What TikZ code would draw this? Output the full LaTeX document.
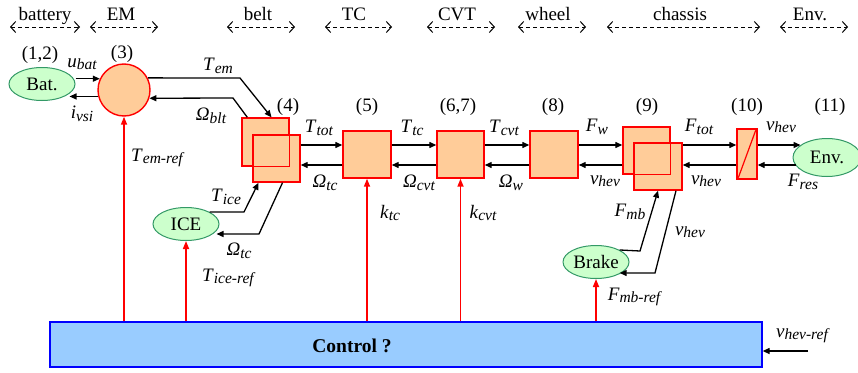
\documentclass[tikz,border=0pt]{standalone}
\usepackage{fontspec}
\setmainfont{Liberation Serif}
\usetikzlibrary{arrows.meta,shapes.geometric}

\definecolor{peach}{HTML}{FFCC99}
\definecolor{srcfill}{HTML}{CCFFCC}
\definecolor{srcline}{HTML}{339966}
\definecolor{ctrlfill}{HTML}{99CCFF}

% signal name with italic subscript
\newcommand{\sg}[2]{\textit{#1}\raisebox{-2.5pt}{\fontsize{15.5}{16}\selectfont\itshape #2}}

\tikzset{
  block/.style={draw=red, line width=1.4pt, fill=peach, inner sep=0pt},
  source/.style={ellipse, draw=srcline, line width=1pt, fill=srcfill, inner sep=0pt, minimum width=66pt, minimum height=33pt},
  sig/.style={line width=1.3pt, -{Triangle[length=7pt,width=6pt]}},
  refsig/.style={red, line width=1.6pt, -{Triangle[length=8pt,width=6pt]}},
  zone/.style={line width=1pt, dash pattern=on 4pt off 3pt, {Straight Barb[length=5pt,width=11pt]}-{Straight Barb[length=5pt,width=11pt]}},
}

\begin{document}
\begin{tikzpicture}[x=1pt, y=-1pt, font=\fontsize{19}{22}\selectfont]
  \useasboundingbox (0,0) rectangle (858,372);

  % Subsystem ranges along the top
  \foreach \xa/\xb/\xl/\nm [count=\i] in {10/80/45/battery, 90/158/121/EM, 227/295/258/belt, 325/392/354/TC, 427/495/457/CVT, 518/586/548/wheel, 607/760/680/chassis, 780/848/810/Env.}{
    \coordinate (za\i) at (\xa,27);
    \coordinate (zb\i) at (\xb,27);
    \draw[zone] (za\i) -- (zb\i);
    \node[anchor=base] (zl\i) at (\xl,20) {\nm};
  }

  % Sources and environment
  \node[source] (bat) at (42,84) {Bat.};
  \node[source] (ice) at (186,224) {ICE};
  \node[source] (brake) at (596,262) {Brake};
  \node[source, minimum width=68pt, minimum height=38pt] (env) at (827,157.5) {Env.};

  % Electric machine and blocks
  \node[circle, block, minimum size=52pt] (em) at (124,90) {};
  \node[block, minimum width=47pt, minimum height=48pt] (b4a) at (265.5,142) {};
  \node[block, minimum width=47pt, minimum height=47pt] (b4b) at (276.5,158.5) {};
  \draw[red, line width=1.4pt] (b4a.south west) rectangle (b4a.north east);
  \node[block, minimum width=48pt, minimum height=47pt] (b5) at (367,154.5) {};
  \node[block, minimum width=47pt, minimum height=47pt] (b67) at (460.5,154.5) {};
  \node[block, minimum width=48pt, minimum height=47pt] (b8) at (554,154.5) {};
  \node[block, minimum width=47pt, minimum height=47pt] (b9a) at (646.5,150.5) {};
  \node[block, minimum width=48pt, minimum height=47pt] (b9b) at (658,166.5) {};
  \draw[red, line width=1.4pt] (b9a.south west) rectangle (b9a.north east);
  \node[block, minimum width=20pt, minimum height=50pt] (b10) at (747,154) {};
  \draw[red, line width=1.2pt] ([shift={(2pt,2pt)}]b10.south west) -- ([shift={(-2pt,-2pt)}]b10.north east);

  % Control block
  \node[draw=blue, line width=1.3pt, fill=ctrlfill, minimum width=712pt, minimum height=45pt, inner sep=0pt] (ctrl) at (406,344.5) {};
  \node[font=\fontsize{19.5}{22}\selectfont\bfseries] (ctrltxt) at (352,346) {Control ?};

  % Block numbers
  \node (n12) at (40,55) {(1,2)};
  \node (n3) at (122,54) {(3)};
  \node (n4) at (288,107) {(4)};
  \node (n5) at (367,107) {(5)};
  \node (n67) at (458,107) {(6,7)};
  \node (n8) at (553,107) {(8)};
  \node (n9) at (647,107) {(9)};
  \node (n10) at (747,107) {(10)};
  \node (n11) at (830,107) {(11)};

  % Battery - EM
  \draw[sig] (bat.east |- em.155) -- (em.155);
  \draw[sig] (em.194) -- ([xshift=-6pt]em.194 -| bat.east);
  \node (lubat) at (82,64) {\sg{u}{bat}};
  \node (livsi) at (82,114) {\sg{i}{vsi}};

  % EM - belt
  \draw[sig] (em.27) -- (240,78) -- ([xshift=6pt]b4a.north);
  \draw[sig] ([xshift=6pt]b4a.north west) -- (233,98) -- (em.-18);
  \node (ltem) at (218,66) {\sg{T}{em}};
  \node (lwblt) at (211,116) {\sg{Ω}{blt}};

  % ICE - belt
  \draw[sig] (ice.north east) -- (244,212) -- ([xshift=-18pt]b4b.south);
  \draw[sig] ([xshift=6pt]b4b.south) -- (259,234) -- ([xshift=-3pt]ice.east |- 0,234);
  \node (ltice) at (226,197) {\sg{T}{ice}};
  \node (lwtc2) at (239,251) {\sg{Ω}{tc}};

  % Power chain
  \coordinate (up) at (0,145);
  \coordinate (dn) at (0,165);
  \draw[sig] (b4b.east |- up) -- (b5.west |- up);
  \draw[sig] (b5.west |- dn) -- (b4b.east |- dn);
  \draw[sig] (b5.east |- up) -- (b67.west |- up);
  \draw[sig] (b67.west |- dn) -- (b5.east |- dn);
  \draw[sig] (b67.east |- up) -- (b8.west |- up);
  \draw[sig] (b8.west |- dn) -- (b67.east |- dn);
  \draw[sig] (b8.east |- up) -- (b9a.west |- up);
  \draw[sig] (b9a.west |- dn) -- (b8.east |- dn);
  \draw[sig] (b9b.east |- up) -- (b10.west |- up);
  \draw[sig] (b10.west |- dn) -- (b9b.east |- dn);
  \draw[sig] (b10.east |- up) -- ([xshift=8pt]env.west |- up);
  \draw[sig] ([xshift=3pt]env.west |- dn) -- (b10.east |- dn);
  \node (lttot) at (319,128) {\sg{T}{tot}};
  \node (lwtc) at (325,183) {\sg{Ω}{tc}};
  \node (lttc) at (412,128) {\sg{T}{tc}};
  \node (lwcvt) at (419,183) {\sg{Ω}{cvt}};
  \node (ltcvt) at (504,128) {\sg{T}{cvt}};
  \node (lww) at (511,183) {\sg{Ω}{w}};
  \node (lfw) at (597,127) {\sg{F}{w}};
  \node (lvhev1) at (605,181) {\sg{v}{hev}};
  \node (lftot) at (699,127) {\sg{F}{tot}};
  \node (lvhev2) at (706,181) {\sg{v}{hev}};
  \node (lvhev3) at (781,127) {\sg{v}{hev}};
  \node (lfres) at (803,182) {\sg{F}{res}};

  % Brake - chassis
  \draw[sig] (brake.north east) -- (640,251) -- (b9b.south);
  \draw[sig] ([xshift=18pt]b9b.south) -- (655,273) -- (brake.south east |- 0,273);
  \node (lfmb) at (630,212) {\sg{F}{mb}};
  \node (lvhev4) at (690,232) {\sg{v}{hev}};

  % Control references
  \draw[refsig] (ctrl.north -| em.south) -- (em.south);
  \draw[refsig] (ctrl.north -| ice.south) -- (ice.south);
  \draw[refsig] (ctrl.north -| b5.south) -- (b5.south);
  \draw[refsig] (ctrl.north -| b67.south) -- (b67.south);
  \draw[refsig] (ctrl.north -| brake.south) -- (brake.south);
  \node (ltemref) at (157,158) {\sg{T}{em-ref}};
  \node (lticeref) at (228,278) {\sg{T}{ice-ref}};
  \node (lktc) at (390,213) {\sg{k}{tc}};
  \node (lkcvt) at (483,213) {\sg{k}{cvt}};
  \node (lfmbref) at (634,297) {\sg{F}{mb-ref}};

  % Speed reference
  \coordinate (vref) at (808,351);
  \draw[sig] (vref) -- (ctrl.east |- vref);
  \node (lvref) at (802,336) {\sg{v}{hev-ref}};
\end{tikzpicture}
\end{document}
